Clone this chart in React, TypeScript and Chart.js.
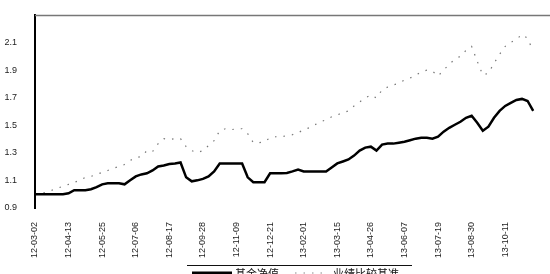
import React, { useEffect, useRef } from "react";
import { Chart, registerables } from "chart.js";

Chart.register(...registerables);

const dates = [
  "12-03-02","12-03-09","12-03-16","12-03-23","12-03-30","12-04-06","12-04-13","12-04-20","12-04-27","12-05-04",
  "12-05-11","12-05-18","12-05-25","12-06-01","12-06-08","12-06-15","12-06-22","12-06-29","12-07-06","12-07-13",
  "12-07-20","12-07-27","12-08-03","12-08-10","12-08-17","12-08-24","12-08-31","12-09-07","12-09-14","12-09-21",
  "12-09-28","12-10-05","12-10-12","12-10-19","12-10-26","12-11-02","12-11-09","12-11-16","12-11-23","12-11-30",
  "12-12-07","12-12-14","12-12-21","12-12-28","13-01-04","13-01-11","13-01-18","13-01-25","13-02-01","13-02-08",
  "13-02-15","13-02-22","13-03-01","13-03-08","13-03-15","13-03-22","13-03-29","13-04-05","13-04-12","13-04-19",
  "13-04-26","13-05-03","13-05-10","13-05-17","13-05-24","13-05-31","13-06-07","13-06-14","13-06-21","13-06-28",
  "13-07-05","13-07-12","13-07-19","13-07-26","13-08-02","13-08-09","13-08-16","13-08-23","13-08-30","13-09-06",
  "13-09-13","13-09-20","13-09-27","13-10-04","13-10-11","13-10-18","13-10-25","13-11-01","13-11-08","13-11-15",
];

const fundNav = [
  1.0, 1.0, 1.0, 1.0, 1.0, 1.0, 1.007, 1.029, 1.029, 1.029,
  1.036, 1.051, 1.072, 1.079, 1.079, 1.079, 1.072, 1.101, 1.13, 1.144,
  1.152, 1.173, 1.202, 1.209, 1.22, 1.224, 1.231, 1.123, 1.094, 1.101,
  1.112, 1.13, 1.166, 1.224, 1.224, 1.224, 1.224, 1.224, 1.123, 1.087,
  1.087, 1.087, 1.152, 1.152, 1.152, 1.155, 1.166, 1.18, 1.166, 1.166,
  1.166, 1.166, 1.166, 1.195, 1.224, 1.238, 1.253, 1.281, 1.317, 1.339,
  1.346, 1.317, 1.361, 1.368, 1.368, 1.375, 1.382, 1.393, 1.404, 1.411,
  1.411, 1.404, 1.418, 1.455, 1.483, 1.505, 1.527, 1.556, 1.57, 1.519,
  1.462, 1.491, 1.556, 1.606, 1.642, 1.664, 1.685, 1.693, 1.678, 1.606,
];

const benchmark = [
  1.0, 1.007, 1.014, 1.029, 1.043, 1.058, 1.072, 1.087, 1.101, 1.123,
  1.13, 1.144, 1.159, 1.173, 1.188, 1.202, 1.216, 1.245, 1.267, 1.274,
  1.317, 1.31, 1.368, 1.404, 1.397, 1.404, 1.404, 1.346, 1.317, 1.303,
  1.317, 1.354, 1.39, 1.462, 1.476, 1.469, 1.476, 1.476, 1.44, 1.375,
  1.375, 1.382, 1.411, 1.418, 1.418, 1.426, 1.433, 1.447, 1.469, 1.483,
  1.505, 1.527, 1.541, 1.563, 1.577, 1.592, 1.606, 1.642, 1.671, 1.7,
  1.722, 1.7, 1.758, 1.779, 1.794, 1.808, 1.83, 1.844, 1.866, 1.887,
  1.902, 1.895, 1.859, 1.902, 1.945, 1.981, 2.003, 2.046, 2.075, 1.967,
  1.866, 1.88, 1.952, 2.017, 2.075, 2.104, 2.126, 2.162, 2.133, 2.039,
];

const seriesNames = ["基金净值", "业绩比较基准"];
const yMin = 0.9;
const yMax = 2.3;
const yStep = 0.2;
const labelEvery = 6;

const framePlugin = {
  id: "frameAndLegend",
  afterDraw(chart: any) {
    const { ctx, chartArea } = chart;
    ctx.save();
    ctx.strokeStyle = "#777";
    ctx.lineWidth = 1.5;
    ctx.beginPath();
    ctx.moveTo(chartArea.left, chartArea.top);
    ctx.lineTo(chart.width, chartArea.top);
    ctx.stroke();
    ctx.strokeStyle = "#111";
    ctx.lineWidth = 1;
    ctx.beginPath();
    ctx.moveTo(187, 265.5);
    ctx.lineTo(412, 265.5);
    ctx.stroke();
    ctx.strokeStyle = "#000";
    ctx.lineWidth = 3;
    ctx.beginPath();
    ctx.moveTo(192, 273);
    ctx.lineTo(232, 273);
    ctx.stroke();
    ctx.fillStyle = "#111";
    ctx.font = "11px 'Noto Sans CJK SC'";
    ctx.textBaseline = "top";
    ctx.textAlign = "left";
    ctx.fillText(seriesNames[0], 235, 268);
    ctx.strokeStyle = "#888";
    ctx.lineWidth = 1;
    ctx.setLineDash([1.5, 7]);
    ctx.beginPath();
    ctx.moveTo(295, 273);
    ctx.lineTo(328, 273);
    ctx.stroke();
    ctx.setLineDash([]);
    ctx.fillText(seriesNames[1], 333, 268);
    ctx.restore();
  },
};

export default function App() {
  const ref = useRef<HTMLCanvasElement>(null);
  useEffect(() => {
    if (!ref.current) return;
    const chart = new Chart(ref.current, {
      type: "line",
      data: {
        labels: dates,
        datasets: [
          {
            label: seriesNames[0],
            data: fundNav,
            borderColor: "#000",
            borderWidth: 2.5,
            pointRadius: 0,
            tension: 0,
          },
          {
            label: seriesNames[1],
            data: benchmark,
            borderColor: "#777",
            borderWidth: 1.2,
            borderDash: [1.5, 7],
            pointRadius: 0,
            tension: 0,
          },
        ],
      },
      options: {
        responsive: false,
        animation: false,
        layout: { padding: { top: 14, right: 0, bottom: 14, left: 0 } },
        plugins: { legend: { display: false }, tooltip: { enabled: false } },
        scales: {
          x: {
            offset: false,
            grid: { display: false },
            border: { display: false },
            ticks: {
              autoSkip: false,
              maxRotation: 90,
              minRotation: 90,
              padding: 6,
              color: "#222",
              font: { size: 9, family: "'Liberation Sans', Arial" },
              callback: (_v: any, i: number) => (i % labelEvery === 0 ? dates[i] : ""),
            },
            afterFit: (s: any) => {
              s.height = 52;
            },
          },
          y: {
            min: yMin,
            max: yMax,
            grid: { display: false },
            border: { display: true, color: "#000", width: 2 },
            ticks: {
              stepSize: yStep,
              padding: 10,
              color: "#222",
              font: { size: 9, family: "'Liberation Sans', Arial" },
              callback: (v: any) => (v > 2.25 ? "" : Number(v).toFixed(1)),
            },
            afterFit: (s: any) => {
              s.width = 35;
            },
          },
        },
      },
      plugins: [framePlugin],
    });
    return () => chart.destroy();
  }, []);
  return (
    <div style={{ position: "fixed", left: 0, top: 0, width: 550, height: 274, overflow: "hidden", background: "#fff" }}>
      <canvas ref={ref} width={550} height={274} />
    </div>
  );
}
